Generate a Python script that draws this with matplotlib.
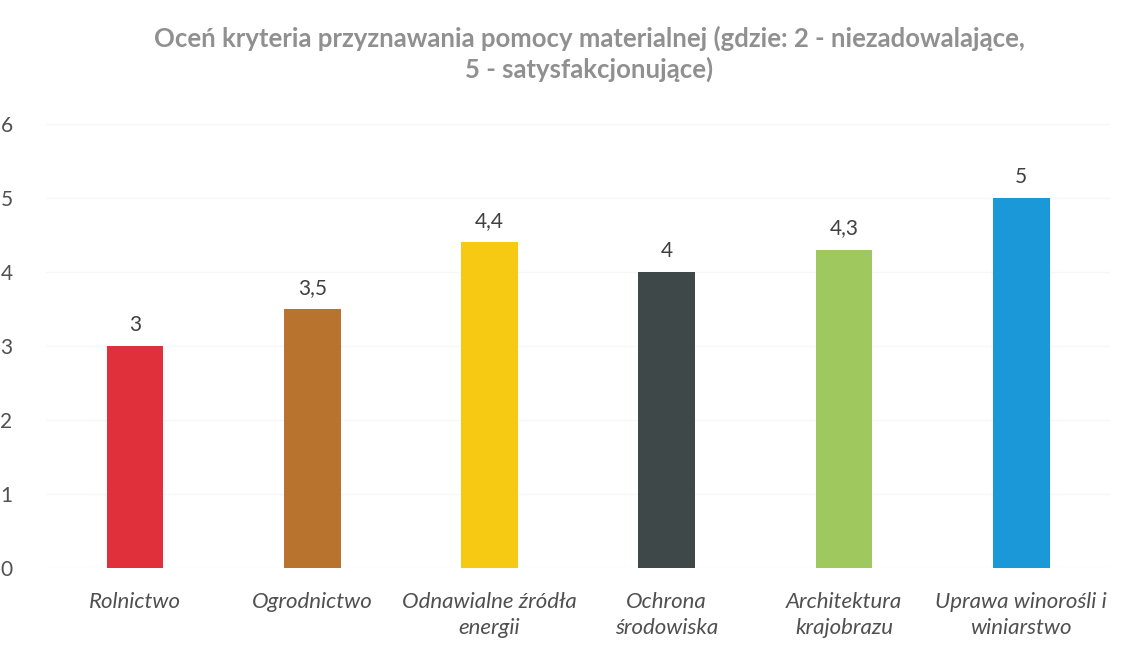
import matplotlib
matplotlib.use("Agg")
import matplotlib.pyplot as plt

categories = ["Rolnictwo", "Ogrodnictwo", "Odnawialne źródła\nenergii", "Ochrona\nśrodowiska",
              "Architektura\nkrajobrazu", "Uprawa winorośli i\nwiniarstwo"]
values = [3, 3.5, 4.4, 4, 4.3, 5]
value_labels = ["3", "3,5", "4,4", "4", "4,3", "5"]
colors = ["#e0303c", "#b8742e", "#f6ca12", "#3e4848", "#9fc85e", "#1a98d8"]
yticks = [0, 1, 2, 3, 4, 5, 6]

plt.rcParams['font.family'] = ['Lato', 'DejaVu Sans']

fig = plt.figure(figsize=(11.29, 6.52), dpi=100)
ax = fig.add_axes([0.041, 0.129, 0.942, 0.681])
x = range(len(categories))
bars = ax.bar(x, values, width=0.32, color=colors, zorder=2)
for xi, v, lab in zip(x, values, value_labels):
    ax.text(xi, v + 0.15, lab, ha="center", va="bottom", fontsize=15, color="#404040")
ax.set_xlim(-0.5, len(categories) - 0.5)
ax.set_ylim(0, 6)
ax.set_yticks(yticks)
ax.set_yticklabels([str(t) for t in yticks])
ax.set_xticks(list(x))
ax.set_xticklabels(categories, fontsize=16, style="italic", color="#505050", linespacing=1.4)
ax.tick_params(axis="y", labelsize=15, labelcolor="#505050", length=0, pad=33)
ax.tick_params(axis="x", length=0, pad=17)
for s in ax.spines.values():
    s.set_visible(False)
ax.yaxis.grid(True, color="#f7f7f7", linewidth=1, zorder=0)
for lbl in ax.get_yticklabels():
    lbl.set_horizontalalignment("left")
fig.text(0.522, 0.961, "Oceń kryteria przyznawania pomocy materialnej (gdzie: 2 - niezadowalające,\n5 - satysfakcjonujące)",
         ha="center", va="top", fontsize=18.5, fontweight="bold", color="#909090", linespacing=1.3)
fig.savefig("out.png", dpi=100)
